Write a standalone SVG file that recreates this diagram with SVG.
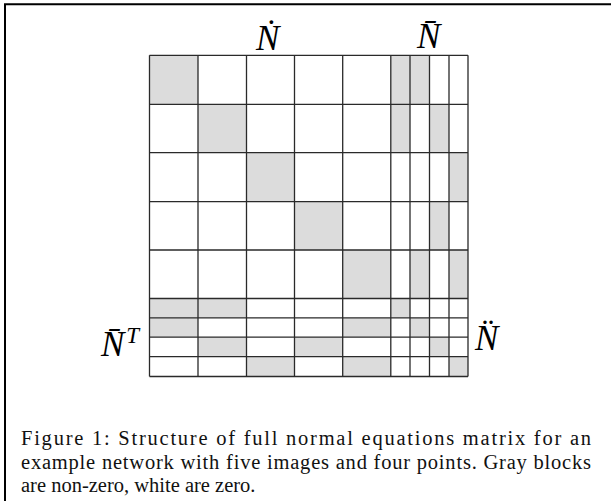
<svg xmlns="http://www.w3.org/2000/svg" width="611" height="501" viewBox="0 0 611 501">
<style>
.g{fill:#dcdcdc}
.ln{stroke:#2a2a2a;stroke-width:1.3;fill:none}
.lab{font-family:"Liberation Serif","Times New Roman",serif;font-style:italic;font-size:35px;fill:#000}
.cap{font-family:"Liberation Serif","Times New Roman",serif;font-size:20.5px;fill:#111}
</style>
<rect x="0" y="0" width="611" height="501" fill="#fff"/>
<path d="M5,501 V4.3 H611" fill="none" stroke="#000" stroke-width="2"/>
<g id="matrix">
<g id="cells-gray">
<rect class="g" x="149.5" y="55.3" width="48.5" height="49"/>
<rect class="g" x="198" y="104.3" width="48.5" height="48.4"/>
<rect class="g" x="246.5" y="152.7" width="48" height="49"/>
<rect class="g" x="294.5" y="201.7" width="48.2" height="48.3"/>
<rect class="g" x="342.7" y="250" width="48.1" height="48.5"/>
<rect class="g" x="390.8" y="55.3" width="19.2" height="49"/>
<rect class="g" x="410" y="55.3" width="19.5" height="49"/>
<rect class="g" x="390.8" y="104.3" width="19.2" height="48.4"/>
<rect class="g" x="429.5" y="104.3" width="19.5" height="48.4"/>
<rect class="g" x="449" y="152.7" width="19" height="49"/>
<rect class="g" x="429.5" y="201.7" width="19.5" height="48.3"/>
<rect class="g" x="410" y="250" width="19.5" height="48.5"/>
<rect class="g" x="449" y="250" width="19" height="48.5"/>
<rect class="g" x="149.5" y="298.5" width="48.5" height="19.3"/>
<rect class="g" x="198" y="298.5" width="48.5" height="19.3"/>
<rect class="g" x="149.5" y="317.8" width="48.5" height="19.4"/>
<rect class="g" x="342.7" y="317.8" width="48.1" height="19.4"/>
<rect class="g" x="198" y="337.2" width="48.5" height="19.5"/>
<rect class="g" x="294.5" y="337.2" width="48.2" height="19.5"/>
<rect class="g" x="246.5" y="356.7" width="48" height="19.8"/>
<rect class="g" x="342.7" y="356.7" width="48.1" height="19.8"/>
<rect class="g" x="390.8" y="298.5" width="19.2" height="19.3"/>
<rect class="g" x="410" y="317.8" width="19.5" height="19.4"/>
<rect class="g" x="429.5" y="337.2" width="19.5" height="19.5"/>
<rect class="g" x="449" y="356.7" width="19" height="19.8"/>
</g>
<g id="grid" class="ln">
<path d="M149.5,55.3V376.5M198,55.3V376.5M246.5,55.3V376.5M294.5,55.3V376.5M342.7,55.3V376.5M390.8,55.3V376.5M410,55.3V376.5M429.5,55.3V376.5M449,55.3V376.5M468,55.3V376.5"/>
<path d="M149.5,55.3H468M149.5,104.3H468M149.5,152.7H468M149.5,201.7H468M149.5,250H468M149.5,298.5H468M149.5,317.8H468M149.5,337.2H468M149.5,356.7H468M149.5,376.5H468"/>
</g>
</g>
<g id="labels">
<text class="lab" x="256" y="50">N&#x307;</text>
<text class="lab" x="417" y="48">N&#x304;</text>
<text class="lab" x="101" y="356">N&#x304;<tspan font-size="23" dx="2" dy="-13">T</tspan></text>
<text class="lab" x="475" y="350">N&#x308;</text>
</g>
<g id="caption">
<text class="cap" x="21" y="445" textLength="570" lengthAdjust="spacing">Figure 1: Structure of full normal equations matrix for an</text>
<text class="cap" x="21" y="469" textLength="570" lengthAdjust="spacing">example network with five images and four points. Gray blocks</text>
<text class="cap" x="21" y="492">are non-zero, white are zero.</text>
</g>
</svg>
